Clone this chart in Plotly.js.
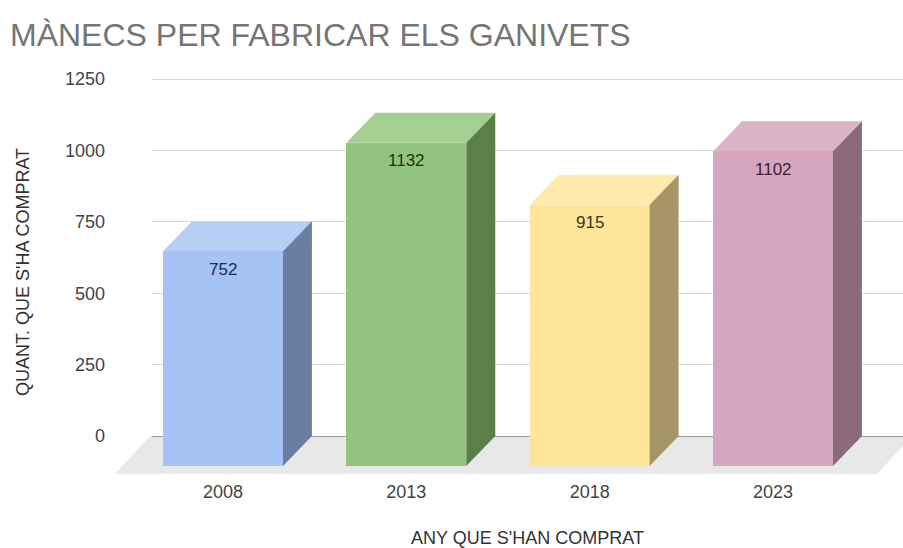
<!DOCTYPE html>
<html>
<head>
<meta charset="utf-8">
<script src="https://cdn.plot.ly/plotly-3.0.1.min.js"></script>
<style>html,body{margin:0;padding:0;background:#fff;}#chart{width:903px;height:548px;}</style>
</head>
<body>
<div id="chart"></div>
<script>
// ---- data ----
const categories = ["2008", "2013", "2018", "2023"];
const values = [752, 1132, 915, 1102];
const yTicks = [0, 250, 500, 750, 1000, 1250];

// ---- styles ----
const frontColors = ["#a4c2f4", "#93c47d", "#ffe599", "#d5a6bd"];
const topColors   = ["#b6cdf4", "#a4cf90", "#ffeaab", "#dcb4c7"];
const sideColors  = ["#6a7ea4", "#5b7f4b", "#a69566", "#8a6a7b"];
const labelColors = ["#1d2b48", "#1e3316", "#3d3420", "#3c2232"];

const FONT = "'Liberation Sans', Arial, sans-serif";
const halfW = 0.327;   // half width of front face (x units)
const depthX = 0.158;  // 3D depth in x units
const depthY = 105;    // 3D depth in y units

const xs = categories.map((c, i) => i);
const traces = [];

// front faces
traces.push({
  type: "bar",
  x: xs,
  y: values,
  base: values.map(() => -depthY),
  width: halfW * 2,
  marker: { color: frontColors, line: { width: 0 } },
  hoverinfo: "skip",
  showlegend: false
});

// top and side faces
xs.forEach((c, i) => {
  const v = values[i];
  traces.push({
    type: "scatter", mode: "lines", fill: "toself",
    x: [c - halfW, c + halfW, c + halfW + depthX, c - halfW + depthX, c - halfW],
    y: [v - depthY, v - depthY, v, v, v - depthY],
    fillcolor: topColors[i], line: { width: 0, color: topColors[i] },
    hoverinfo: "skip", showlegend: false
  });
  traces.push({
    type: "scatter", mode: "lines", fill: "toself",
    x: [c + halfW, c + halfW, c + halfW + depthX, c + halfW + depthX, c + halfW],
    y: [-depthY, v - depthY, v, 0, -depthY],
    fillcolor: sideColors[i], line: { width: 0, color: sideColors[i] },
    hoverinfo: "skip", showlegend: false
  });
});

const annotations = xs.map((c, i) => ({
  x: c, y: values[i] - depthY, xref: "x", yref: "y",
  text: String(values[i]), showarrow: false,
  yanchor: "middle", yshift: -18,
  font: { family: FONT, size: 17, color: labelColors[i] }
}));

const layout = {
  width: 903, height: 548,
  margin: { l: 152, r: 0, t: 70, b: 74 },
  paper_bgcolor: "#ffffff", plot_bgcolor: "#ffffff",
  font: { family: FONT, color: "#444444" },
  title: {
    text: "MÀNECS PER FABRICAR ELS GANIVETS",
    font: { family: FONT, size: 32, color: "#757575" },
    xref: "container", x: 10 / 903, xanchor: "left",
    yref: "container", y: 1 - 35 / 548, yanchor: "middle"
  },
  xaxis: {
    range: [-0.3873, 3.709],
    tickvals: xs, ticktext: categories,
    showgrid: false, zeroline: false, showline: false, ticks: "",
    ticklabelstandoff: 5,
    tickfont: { family: FONT, size: 18, color: "#444444" },
    title: { text: "ANY QUE S'HAN COMPRAT", font: { family: FONT, size: 18, color: "#333333" }, standoff: 33 },
    fixedrange: true
  },
  yaxis: {
    range: [-133, 1281.6],
    tickvals: yTicks,
    showgrid: true, gridcolor: "#d9d9d9", gridwidth: 1,
    zeroline: true, zerolinecolor: "#999999", zerolinewidth: 1,
    showline: false, ticks: "",
    ticklabelstandoff: 46,
    tickfont: { family: FONT, size: 18, color: "#444444" },
    title: { text: "QUANT. QUE S'HA COMPRAT", font: { family: FONT, size: 18, color: "#333333" }, standoff: 30 },
    fixedrange: true
  },
  shapes: [{
    type: "path", xref: "paper", yref: "y", layer: "below",
    path: "M -0.0027 0 L 1.012 0 L 0.9654 -133 L -0.0493 -133 Z",
    fillcolor: "#e8e8e8", line: { width: 0 }
  }],
  annotations: annotations,
  showlegend: false,
  bargap: 0
};

Plotly.newPlot("chart", traces, layout, { displayModeBar: false, staticPlot: true });
</script>
</body>
</html>
